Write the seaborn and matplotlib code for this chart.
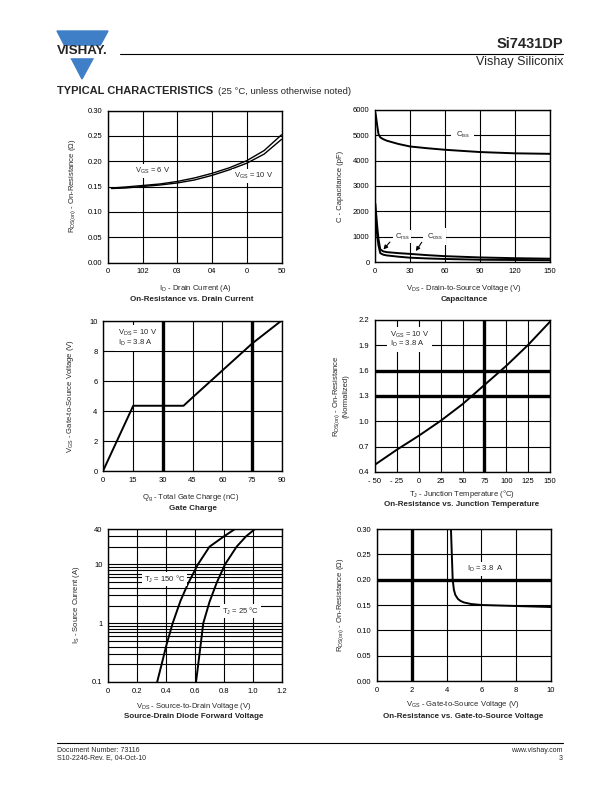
import matplotlib
matplotlib.use("Agg")
import matplotlib.pyplot as plt
import seaborn as sns
from matplotlib.patches import Polygon, Rectangle
from matplotlib.lines import Line2D
from matplotlib.ticker import LogLocator, NullFormatter

# --- data ---
# On-resistance vs drain current
id_current = [1, 5, 10, 15, 20, 25, 30, 35, 40, 45, 50]
rds_vgs6 = [0.147, 0.149, 0.152, 0.155, 0.160, 0.167, 0.176, 0.187, 0.201, 0.221, 0.252]
rds_vgs10 = [0.146, 0.147, 0.150, 0.153, 0.157, 0.163, 0.172, 0.183, 0.196, 0.214, 0.243]
id_ticks = [0, 10, 20, 30, 40, 50]
id_ticklabels = ["0", "102", "03", "04", "0", "50"]

# Capacitance
vds_cap = [0.3, 1, 2, 3, 4.5, 7, 10, 20, 30, 45, 60, 90, 120, 150]
ciss = [5900, 5700, 5350, 5050, 4920, 4850, 4790, 4660, 4560, 4490, 4430, 4340, 4290, 4270]
coss = [2300, 1900, 1350, 900, 500, 420, 390, 350, 320, 270, 230, 180, 150, 130]
crss = [1900, 1500, 1000, 650, 350, 290, 260, 210, 170, 140, 120, 90, 80, 70]

# Gate charge
qg = [0, 15.2, 40.5, 45, 60, 75, 89.5]
vgs_gate = [0, 4.35, 4.35, 4.9, 6.7, 8.5, 10]

# On-resistance vs junction temperature
tj = [-50, -25, 0, 25, 50, 75, 100, 125, 150]
rds_norm = [0.487, 0.664, 0.829, 1.006, 1.203, 1.43, 1.657, 1.905, 2.18]
tj_ticklabels = ["- 50", "- 25", "0", "25", "50", "75", "100", "125", "150"]

# Source-drain diode forward voltage
vsd_150 = [0.339, 0.37, 0.40, 0.446, 0.50, 0.55, 0.62, 0.70, 0.80, 0.876]
is_150 = [0.1, 0.2, 0.4, 1.0, 2.4, 4.6, 10, 20, 30, 40]
vsd_25 = [0.607, 0.62, 0.64, 0.657, 0.70, 0.75, 0.807, 0.887, 0.952, 1.014]
is_25 = [0.1, 0.18, 0.45, 1.0, 2.3, 4.9, 10, 20, 30, 40]

# On-resistance vs gate-to-source voltage
vgs_r = [4.25, 4.3, 4.35, 4.42, 4.5, 4.65, 4.8, 5.0, 5.4, 6.0, 7.0, 8.0, 9.0, 10.0]
rds_vgs = [0.30, 0.25, 0.20, 0.18, 0.17, 0.162, 0.158, 0.155, 0.152, 0.150, 0.149, 0.148, 0.147, 0.146]

sns.set_style("white")
plt.rcParams['font.family'] = ['Liberation Sans', 'DejaVu Sans']
plt.rcParams['mathtext.default'] = 'regular'

W, H = 612, 792
fig = plt.figure(figsize=(6.12, 7.92), dpi=100)


def fx(x):
    return x / W


def fy(y):
    return 1 - y / H


def page_text(x, y, s, **kw):
    kw.setdefault('ha', 'center')
    kw.setdefault('va', 'center')
    fig.text(fx(x), fy(y), s, **kw)


def make_axes(left, top, right, bottom):
    ax = fig.add_axes([fx(left), fy(bottom), (right - left) / W, (bottom - top) / H])
    for sp in ax.spines.values():
        sp.set_color('black')
        sp.set_linewidth(1.0)
        sp.set_visible(True)
    ax.tick_params(length=0, labelsize=5.5, pad=4, colors='black')
    ax.grid(True, color='black', lw=0.8)
    ax.set_axisbelow(True)
    return ax


box = dict(facecolor='white', edgecolor='none', pad=1.2)
lab = dict(fontsize=5.5)
ttl = dict(fontsize=5.8, fontweight='bold')

# --- header ---
fig.patches.append(Polygon([[fx(57), fy(31)], [fx(108), fy(31)], [fx(82), fy(79)]],
                           closed=True, transform=fig.transFigure, color='#3f7fc8'))
fig.patches.append(Rectangle((fx(54), fy(57)), 58 / W, 11 / H, transform=fig.transFigure,
                             color='white'))
page_text(82, 51.5, "VISHAY.", fontsize=9.6, fontweight='bold')
fig.add_artist(Line2D([fx(120), fx(563)], [fy(53.5), fy(53.5)], color='black', lw=0.8))
page_text(563, 44, "Si7431DP", ha='right', fontsize=10.5, fontweight='bold')
page_text(563, 62, "Vishay Siliconix", ha='right', fontsize=9)
fig.text(fx(57), fy(91), "TYPICAL CHARACTERISTICS", fontsize=8, fontweight='bold', va='center')
page_text(218, 91, "(25 °C, unless otherwise noted)", ha='left', fontsize=6.8)

# --- On-Resistance vs. Drain Current ---
ax1 = make_axes(108, 110.5, 281.5, 262.5)
sns.lineplot(x=id_current, y=rds_vgs6, ax=ax1, color='black', lw=1.0, estimator=None)
sns.lineplot(x=id_current, y=rds_vgs10, ax=ax1, color='black', lw=1.0, estimator=None)
ax1.set_xlim(0, 50)
ax1.set_ylim(0, 0.30)
ax1.set_xticks(id_ticks)
ax1.set_xticklabels(id_ticklabels)
ax1.set_yticks([0, 0.05, 0.10, 0.15, 0.20, 0.25, 0.30])
ax1.set_yticklabels(["0.00", "0.05", "0.10", "0.15", "0.20", "0.25", "0.30"])
ax1.text(7.8, 0.181, r"V$_{GS}$ = 6 V", fontsize=5.5, va='center', bbox=box)
ax1.text(36.3, 0.171, r"V$_{GS}$ = 10 V", fontsize=5.5, va='center', bbox=box)
page_text(73, 186, r"R$_{DS(on)}$ - On-Resistance (Ω)", rotation=90, **lab)
page_text(195, 288, r"I$_{D}$ - Drain Current (A)", **lab)
page_text(192, 299, "On-Resistance vs. Drain Current", **ttl)

# --- Capacitance ---
ax2 = make_axes(375, 110, 550, 262)
for cv in (ciss, coss, crss):
    sns.lineplot(x=vds_cap, y=cv, ax=ax2, color='black', lw=1.4, estimator=None)
ax2.set_xlim(0, 150)
ax2.set_ylim(0, 6000)
ax2.set_xticks([0, 30, 60, 90, 120, 150])
ax2.set_yticks([0, 1000, 2000, 3000, 4000, 5000, 6000])
ax2.text(75, 5000, r"C$_{iss}$", fontsize=5.5, ha='center', va='center',
         bbox=dict(facecolor='white', edgecolor='none', pad=3))
ax2.text(23, 1000, r"C$_{rss}$", fontsize=5.5, ha='center', va='center', bbox=box)
ax2.text(51, 1000, r"C$_{oss}$", fontsize=5.5, ha='center', va='center',
         bbox=dict(facecolor='white', edgecolor='none', pad=2.5))
arrow = dict(arrowstyle='-|>', color='black', lw=0.8, mutation_scale=6)
ax2.annotate('', xy=(5.7, 410), xytext=(14.3, 870), arrowprops=arrow)
ax2.annotate('', xy=(33.7, 340), xytext=(41.4, 870), arrowprops=arrow)
page_text(341, 186, "C - Capacitance (pF)", rotation=90, **lab)
page_text(464, 288, r"V$_{DS}$ - Drain-to-Source Voltage (V)", **lab)
page_text(464, 299, "Capacitance", **ttl)

# --- Gate Charge ---
ax3 = make_axes(103, 321, 282, 471)
ax3.axvline(30, color='black', lw=2.4, zorder=1.5)
ax3.axvline(75, color='black', lw=2.4, zorder=1.5)
sns.lineplot(x=qg, y=vgs_gate, ax=ax3, color='black', lw=1.4, estimator=None, zorder=3)
ax3.set_xlim(0, 90)
ax3.set_ylim(0, 10)
ax3.set_xticks([0, 15, 30, 45, 60, 75, 90])
ax3.set_yticks([0, 2, 4, 6, 8, 10])
ax3.text(7.3, 8.85, "V$_{DS}$ = 10 V\nI$_{D}$ = 3.8 A", fontsize=5.5, va='center',
         linespacing=0.95, bbox=dict(facecolor='white', edgecolor='none', pad=2), zorder=4)
page_text(70, 396, r"V$_{GS}$ - Gate-to-Source Voltage (V)", rotation=90, **lab)
page_text(191, 498, r"Q$_{g}$ - Total Gate Charge (nC)", **lab)
page_text(193, 509, "Gate Charge", **ttl)

# --- On-Resistance vs. Junction Temperature ---
ax4 = make_axes(375, 320, 550, 472)
ax4.axhline(1.6, color='black', lw=2.4, zorder=1.5)
ax4.axhline(1.3, color='black', lw=2.4, zorder=1.5)
ax4.axvline(75, color='black', lw=2.4, zorder=1.5)
sns.lineplot(x=tj, y=rds_norm, ax=ax4, color='black', lw=1.4, estimator=None, zorder=3)
ax4.set_xlim(-50, 150)
ax4.set_ylim(0.4, 2.2)
ax4.set_xticks(tj)
ax4.set_xticklabels(tj_ticklabels)
ax4.set_yticks([0.4, 0.7, 1.0, 1.3, 1.6, 1.9, 2.2])
ax4.text(-33, 1.97, "V$_{GS}$ = 10 V\nI$_{D}$ = 3.8 A", fontsize=5.5, va='center',
         linespacing=0.95, bbox=dict(facecolor='white', edgecolor='none', pad=2), zorder=4)
page_text(337, 396, r"R$_{DS(on)}$ - On-Resistance", rotation=90, **lab)
page_text(346, 396, "(Normalized)", rotation=90, **lab)
page_text(462, 494, r"T$_{J}$ - Junction Temperature (°C)", **lab)
page_text(462, 504, "On-Resistance vs. Junction Temperature", **ttl)

# --- Source-Drain Diode Forward Voltage ---
ax5 = make_axes(108, 529, 282, 682)
ax5.set_yscale('log')
sns.lineplot(x=vsd_150, y=is_150, ax=ax5, color='black', lw=1.4, estimator=None, zorder=3)
sns.lineplot(x=vsd_25, y=is_25, ax=ax5, color='black', lw=1.4, estimator=None, zorder=3)
ax5.set_xlim(0, 1.2)
ax5.set_ylim(0.1, 40)
ax5.set_xticks([0, 0.2, 0.4, 0.6, 0.8, 1.0, 1.2])
ax5.set_xticklabels(["0", "0.2", "0.4", "0.6", "0.8", "1.0", "1.2"])
ax5.set_yticks([0.1, 1, 10, 40])
ax5.set_yticklabels(["0.1", "1", "10", "40"])
ax5.yaxis.set_minor_locator(LogLocator(base=10, subs=range(2, 10)))
ax5.yaxis.set_minor_formatter(NullFormatter())
ax5.tick_params(which='minor', length=0)
ax5.grid(True, which='minor', axis='y', color='black', lw=0.8)
ax5.text(0.245, 5.6, r"T$_{J}$ = 150 °C", fontsize=5.5, va='center', bbox=box, zorder=4)
ax5.text(0.785, 1.6, r"T$_{J}$ = 25 °C", fontsize=5.5, va='center', bbox=box, zorder=4)
page_text(76, 605, r"I$_{S}$ - Source Current (A)", rotation=90, **lab)
page_text(194, 706, r"V$_{DS}$ - Source-to-Drain Voltage (V)", **lab)
page_text(194, 717, "Source-Drain Diode Forward Voltage", **ttl)

# --- On-Resistance vs. Gate-to-Source Voltage ---
ax6 = make_axes(377, 529, 551, 681)
ax6.axvline(2, color='black', lw=2.4, zorder=1.5)
ax6.axhline(0.20, color='black', lw=2.4, zorder=1.5)
sns.lineplot(x=vgs_r, y=rds_vgs, ax=ax6, color='black', lw=1.4, estimator=None, zorder=3)
ax6.set_xlim(0, 10)
ax6.set_ylim(0, 0.30)
ax6.set_xticks([0, 2, 4, 6, 8, 10])
ax6.set_yticks([0, 0.05, 0.10, 0.15, 0.20, 0.25, 0.30])
ax6.set_yticklabels(["0.00", "0.05", "0.10", "0.15", "0.20", "0.25", "0.30"])
ax6.text(5.2, 0.221, r"I$_{D}$ = 3.8  A", fontsize=5.5, va='center', bbox=box, zorder=4)
page_text(341, 605, r"R$_{DS(on)}$ - On-Resistance (Ω)", rotation=90, **lab)
page_text(463, 705, r"V$_{GS}$ - Gate-to-Source Voltage (V)", **lab)
page_text(463, 716, "On-Resistance vs. Gate-to-Source Voltage", **ttl)

# --- footer ---
fig.add_artist(Line2D([fx(57), fx(563)], [fy(743), fy(743)], color='black', lw=0.8))
page_text(57, 750, "Document Number: 73116", ha='left', fontsize=5)
page_text(57, 758, "S10-2246-Rev. E, 04-Oct-10", ha='left', fontsize=5)
page_text(563, 750, "www.vishay.com", ha='right', fontsize=5)
page_text(563, 758, "3", ha='right', fontsize=5)

fig.savefig("out.png", dpi=100)
